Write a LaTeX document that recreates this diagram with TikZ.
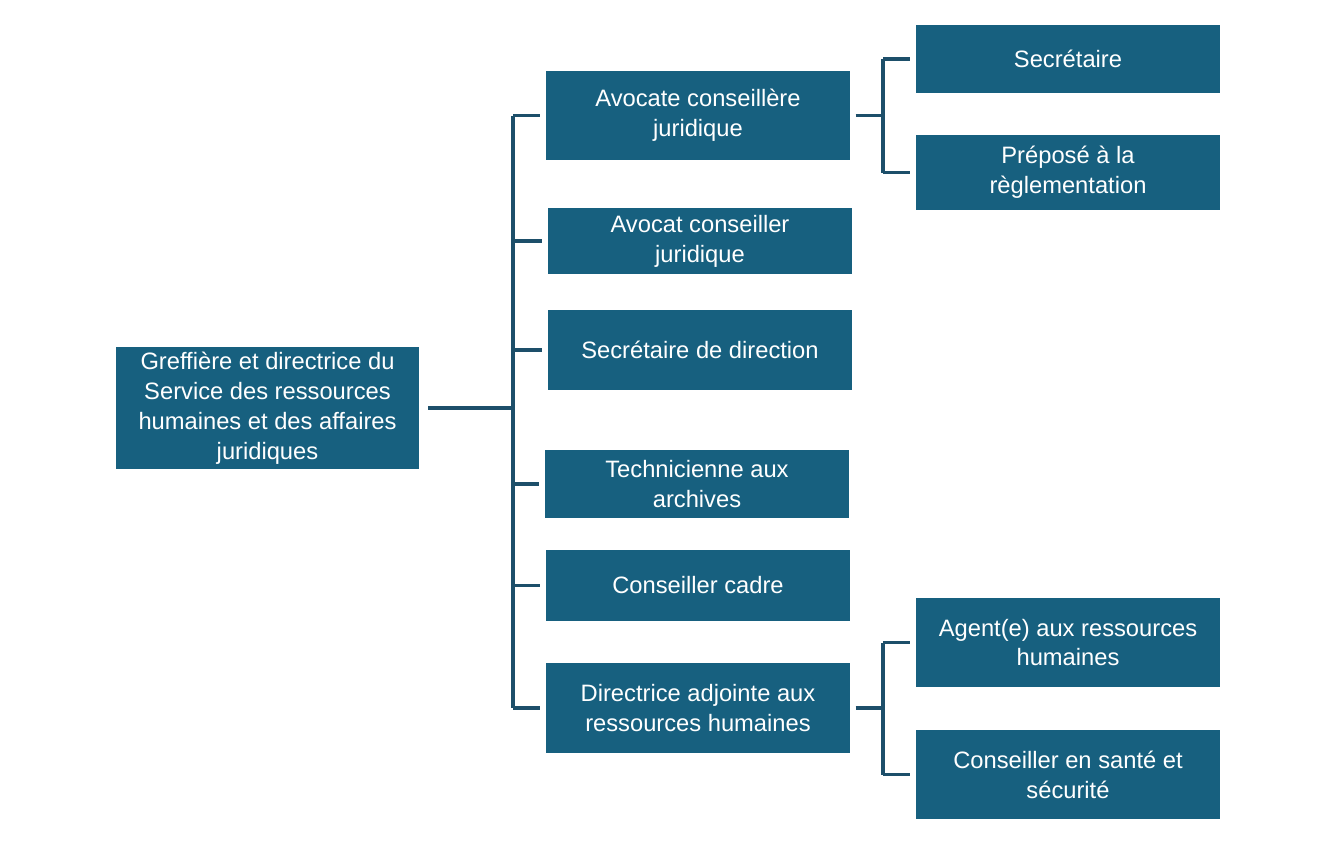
\documentclass[tikz,border=0pt]{standalone}
\usepackage{fontspec}
\setmainfont{Liberation Sans}
\usetikzlibrary{positioning}
\usetikzlibrary{calc}
\definecolor{boxblue}{HTML}{17607F}
\definecolor{lineblue}{HTML}{1D4F6A}

\begin{document}
\begin{tikzpicture}[x=0.02cm,y=-0.02cm]
        \tikzstyle{role}=[fill=boxblue,text=white,align=center,inner sep=0pt,
            font=\fontsize{13.5}{17}\selectfont]
        \tikzstyle{link}=[draw=lineblue,line width=2.2pt]

        \useasboundingbox (0,0) rectangle (1318,850);

        % Draw the role boxes
        \node[role, minimum width=303*0.02cm, minimum height=122*0.02cm] (root) at (267.5,408)
            {Greffière et directrice du\\Service des ressources\\humaines et des affaires\\juridiques};
        \node[role, minimum width=304*0.02cm, minimum height=89*0.02cm] (A-1) at (698,115.5) {Avocate conseillère\\juridique};
        \node[role, minimum width=304*0.02cm, minimum height=66*0.02cm] (A-2) at (700,241) {Avocat conseiller\\juridique};
        \node[role, minimum width=304*0.02cm, minimum height=80*0.02cm] (A-3) at (700,350) {Secrétaire de direction};
        \node[role, minimum width=304*0.02cm, minimum height=68*0.02cm] (A-4) at (697,484) {Technicienne aux\\archives};
        \node[role, minimum width=304*0.02cm, minimum height=71*0.02cm] (A-5) at (698,585.5) {Conseiller cadre};
        \node[role, minimum width=304*0.02cm, minimum height=90*0.02cm] (A-6) at (698,708) {Directrice adjointe aux\\ressources humaines};
        \node[role, minimum width=304*0.02cm, minimum height=68*0.02cm] (B-1) at (1068,59) {Secrétaire};
        \node[role, minimum width=304*0.02cm, minimum height=75*0.02cm] (B-2) at (1068,172.5) {Préposé à la\\règlementation};
        \node[role, minimum width=304*0.02cm, minimum height=89*0.02cm] (C-1) at (1068,642.5) {Agent(e) aux ressources\\humaines};
        \node[role, minimum width=304*0.02cm, minimum height=89*0.02cm] (C-2) at (1068,774.5) {Conseiller en santé et\\sécurité};

        % Connect the director with the first level
        \coordinate (bus) at (513,408);
        \draw[link] ([xshift=5pt]root.east) -- (bus);
        \draw[link] (bus |- A-1) -- (bus |- A-6);
        \foreach \dest in {1,...,6}
            \draw[link] (bus |- A-\dest) -- ([xshift=-3pt]A-\dest.west);

        % Connect the second level
        \coordinate (busB) at (883,115.5);
        \draw[link] ([xshift=3pt]A-1.east) -- (busB);
        \draw[link] (busB |- B-1) -- (busB |- B-2);
        \foreach \dest in {1,2}
            \draw[link] (busB |- B-\dest) -- ([xshift=-3pt]B-\dest.west);

        \coordinate (busC) at (883,708);
        \draw[link] ([xshift=3pt]A-6.east) -- (busC);
        \draw[link] (busC |- C-1) -- (busC |- C-2);
        \foreach \dest in {1,2}
            \draw[link] (busC |- C-\dest) -- ([xshift=-3pt]C-\dest.west);

\end{tikzpicture}
\end{document}
